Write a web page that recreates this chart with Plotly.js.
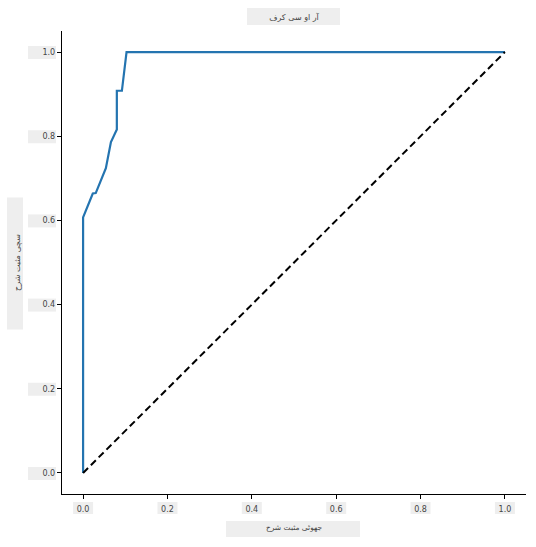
<!DOCTYPE html>
<html>
<head>
<meta charset="utf-8">
<script src="https://cdn.plot.ly/plotly-3.0.1.min.js"></script>
<style>html,body{margin:0;padding:0;background:#fff;}#chart{width:536px;height:547px;}</style>
</head>
<body>
<div id="chart"></div>
<script>
// ROC curve data
const fpr = [0, 0, 0.023, 0.030, 0.054, 0.066, 0.080, 0.080, 0.092, 0.103, 1.0];
const tpr = [0, 0.607, 0.664, 0.665, 0.724, 0.786, 0.816, 0.908, 0.908, 1.0, 1.0];
// chance diagonal
const diagX = [0, 1];
const diagY = [0, 1];
// ticks
const tickVals = [0, 0.2, 0.4, 0.6, 0.8, 1.0];
const tickText = ['0.0', '0.2', '0.4', '0.6', '0.8', '1.0'];
// texts
const chartTitle = 'آر او سی کرف';
const xTitle = 'جھوٹی مثبت شرح';
const yTitle = 'سچی مثبت شرح';

const FONT = 'DejaVu Sans, sans-serif';
const BOX = '#eeeeee';
const TXT = '#444444';

const traces = [
  {x: fpr, y: tpr, type: 'scatter', mode: 'lines',
   line: {color: '#2474b0', width: 2.2}, hoverinfo: 'skip', showlegend: false},
  {x: diagX, y: diagY, type: 'scatter', mode: 'lines',
   line: {color: '#000000', width: 2, dash: '7px,4px'}, hoverinfo: 'skip', showlegend: false}
];

const shapes = [];
// grey boxes behind x tick labels
tickVals.forEach(v => shapes.push({
  type: 'rect', layer: 'below', xref: 'x', xsizemode: 'pixel', xanchor: v, x0: -10, x1: 10,
  yref: 'paper', ysizemode: 'pixel', yanchor: 0, y0: -20, y1: -8,
  fillcolor: BOX, line: {width: 0}
}));
// grey boxes behind y tick labels
tickVals.forEach(v => shapes.push({
  type: 'rect', layer: 'below', yref: 'y', ysizemode: 'pixel', yanchor: v, y0: -7, y1: 6,
  xref: 'paper', xsizemode: 'pixel', xanchor: 0, x0: -34, x1: -6,
  fillcolor: BOX, line: {width: 0}
}));
// title boxes
shapes.push({type: 'rect', layer: 'below', xref: 'paper', xsizemode: 'pixel', xanchor: 0.5, x0: -47, x1: 46,
  yref: 'paper', ysizemode: 'pixel', yanchor: 1, y0: 6, y1: 23, fillcolor: BOX, line: {width: 0}});
shapes.push({type: 'rect', layer: 'below', xref: 'paper', xsizemode: 'pixel', xanchor: 0.5, x0: -68, x1: 66,
  yref: 'paper', ysizemode: 'pixel', yanchor: 0, y0: -43, y1: -27, fillcolor: BOX, line: {width: 0}});
shapes.push({type: 'rect', layer: 'below', xref: 'paper', xsizemode: 'pixel', xanchor: 0, x0: -55, x1: -39,
  yref: 'paper', ysizemode: 'pixel', yanchor: 0.5, y0: -67, y1: 65, fillcolor: BOX, line: {width: 0}});

const axisCommon = {
  range: [-0.05, 1.05], tickvals: tickVals, ticktext: tickText,
  showgrid: false, zeroline: false, showline: true, linecolor: '#000', linewidth: 1.2,
  ticks: 'outside', ticklen: 4, tickwidth: 1, tickcolor: '#000',
  tickfont: {family: FONT, size: 8, color: TXT}, automargin: false, fixedrange: true
};

const layout = {
  width: 536, height: 547,
  margin: {l: 62, r: 10, t: 31, b: 53},
  paper_bgcolor: '#ffffff', plot_bgcolor: '#ffffff',
  showlegend: false,
  title: {text: chartTitle, x: 0.5, xref: 'paper', xanchor: 'center', y: 1 - 17/547, yref: 'container', yanchor: 'middle',
          font: {family: FONT, size: 8, color: TXT}},
  xaxis: Object.assign({}, axisCommon, {
    title: {text: xTitle, font: {family: FONT, size: 7.5, color: TXT}, standoff: 12},
    ticklabelstandoff: 3
  }),
  yaxis: Object.assign({}, axisCommon, {
    title: {text: yTitle, font: {family: FONT, size: 8, color: TXT}, standoff: 20}
  }),
  shapes: shapes
};

Plotly.newPlot('chart', traces, layout, {displayModeBar: false, staticPlot: true});
</script>
</body>
</html>
